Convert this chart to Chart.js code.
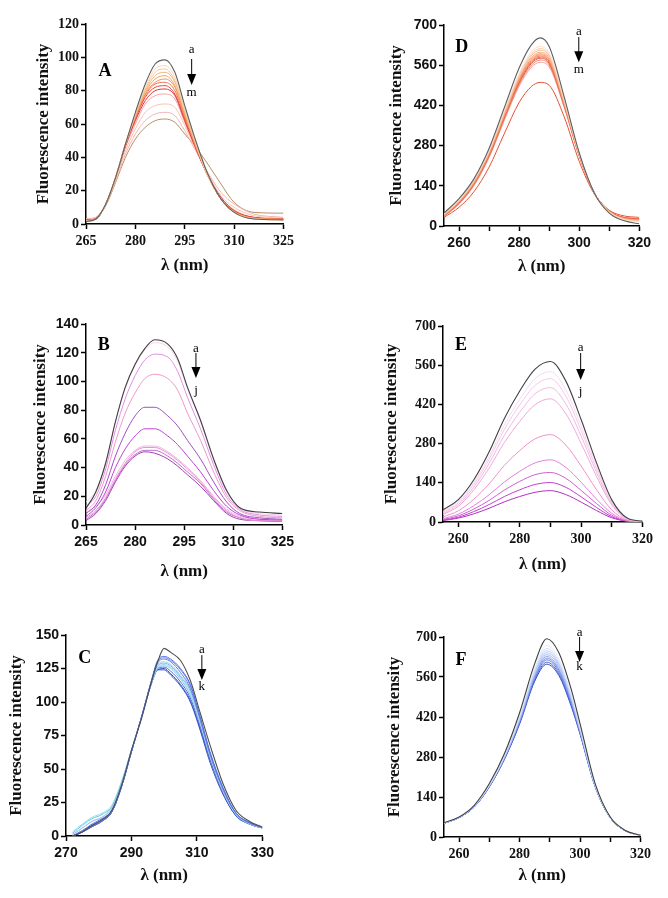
<!DOCTYPE html>
<html>
<head>
<meta charset="utf-8">
<script src="https://cdn.jsdelivr.net/npm/chart.js"></script>
<style>
  html, body { margin: 0; padding: 0; background: #fff; }
  #fig { position: relative; width: 668px; height: 898px; overflow: hidden; background: #fff; }
  #fig canvas { position: absolute; }
</style>
</head>
<body>
<div id="fig"></div>
<script>
    // ---- Panel A: wavelengths and curves a..m
    const wlA = [265, 268, 271, 274, 277, 280, 283, 286, 289, 292, 295, 298, 302, 306, 310, 316, 325];
    const namesA = ['a', 'b', 'c', 'd', 'e', 'f', 'g', 'h', 'i', 'j', 'k', 'l', 'm'];
    const curvesA = [
        [1.5, 3, 12, 28, 48, 67, 84, 96, 98.5, 91, 71, 52, 30, 15, 7, 3, 2.5],
        [1.5, 3, 12, 28, 48, 66, 82, 93, 95, 88, 69, 51, 29, 15, 7, 3, 2.5],
        [1.8, 3, 12, 28, 48, 66, 81, 91, 93, 86, 68, 50, 29, 15, 7, 3.2, 2.5],
        [2, 3, 12, 28, 48, 65, 80, 89, 91, 85, 67, 50, 29, 15, 7, 3.2, 2.5],
        [2, 3, 12, 28, 48, 65, 79, 87, 89, 83, 66, 49, 29, 15, 7.5, 3.5, 2.8],
        [2, 3, 12, 28, 48, 64, 78, 85, 87, 82, 65, 49, 29, 15, 7.5, 3.5, 2.8],
        [2.2, 3, 12, 28, 48, 64, 77, 84, 85, 80, 64, 48, 29, 15, 7.5, 3.5, 2.8],
        [2.2, 3, 12, 28, 47, 63, 76, 82, 83, 78, 63, 48, 29, 15, 8, 3.8, 3],
        [2.5, 3, 12, 28, 47, 62, 74, 80, 81, 77, 62, 47, 29, 16, 8, 4, 3],
        [2.5, 3.5, 12, 28, 46, 60, 72, 77, 78, 75, 61, 47, 30, 16, 8.5, 4, 3],
        [3, 4, 12, 27, 44, 57, 67, 71, 72, 70, 59, 46, 30, 17, 10, 5, 3.5],
        [3, 4, 12, 26, 42, 54, 62, 66, 67, 65, 56, 45, 31, 19, 12, 6, 4],
        [3, 4, 11, 25, 40, 51, 58, 62, 63, 61, 54, 47, 36, 24, 13, 7, 6.5]
    ];
    const colorsA = ['#606060', '#f8d4b4', '#f6c498', '#f4b478', '#f0a458', '#f29060', '#ee7454',
        '#e84444', '#e03434', '#f4a4a4', '#f8c4b0', '#f4b4b4', '#b89064'];
    const xTicksA = [265, 280, 295, 310, 325];
    const yTicksA = [0, 20, 40, 60, 80, 100, 120];

    // ---- Panel B: curves a..j
    const wlB = [265, 268, 271, 274, 277, 280, 283, 286, 290, 293, 296, 300, 304, 308, 312, 318, 325];
    const namesB = ['a', 'b', 'c', 'd', 'e', 'f', 'g', 'h', 'i', 'j'];
    const curvesB = [
        [11.6, 23, 43, 72, 96, 112, 123, 129, 126, 116, 96, 73, 46, 24, 12, 9, 8],
        [16, 24, 43, 72, 95, 111, 122, 127, 124, 114, 95, 72, 45, 23, 12, 8, 7],
        [13, 20, 39, 66, 88, 104, 115, 119, 117, 107, 89, 67, 42, 21, 11, 7, 6],
        [10, 17, 34, 58, 78, 92, 102, 105, 102, 94, 78, 59, 37, 19, 10, 6, 5],
        [8, 14, 28, 48, 64, 76, 82, 82, 76, 69, 59, 46, 30, 16, 8, 5, 4],
        [6, 12, 23, 40, 53, 62, 67, 67, 62, 56, 48, 37, 24, 13, 7, 4, 3.5],
        [9, 13, 21, 34, 45, 52, 55, 55, 51, 46, 40, 31, 20, 11, 6, 4, 3],
        [5, 10, 19, 32, 43, 51, 54, 54, 50, 45, 39, 30, 19, 10, 5, 3, 3],
        [4, 9, 18, 31, 42, 49, 52, 52, 48, 43, 37, 29, 18, 9, 5, 3, 2.5],
        [3, 8, 17, 30, 41, 48, 51, 50, 46, 41, 35, 27, 17, 8, 4, 3, 2.5]
    ];
    const colorsB = ['#404040', '#f4d0f0', '#e090e0', '#f098c8', '#a050c0', '#c040d8',
        '#f0b4e4', '#e890d0', '#c070d0', '#a040b0'];
    const xTicksB = [265, 280, 295, 310, 325];
    const yTicksB = [0, 20, 40, 60, 80, 100, 120, 140];

    // ---- Panel C: curves a..k
    const wlC = [272, 275, 278, 281, 284, 287, 290, 293, 296, 298, 300, 302, 305, 308, 311, 314, 318, 322, 326, 330];
    const namesC = ['a', 'b', 'c', 'd', 'e', 'f', 'g', 'h', 'i', 'j', 'k'];
    const curvesC = [
        [0, 3, 8, 12, 19, 38, 64, 87, 114, 130, 140, 137, 131, 116, 92, 68, 39, 19, 11, 6.7],
        [0, 3, 7, 11, 18, 37, 63, 88, 115, 131, 134, 132, 125, 113, 89, 63, 36, 17, 10, 6.5],
        [0, 3, 8, 12, 18, 37, 63, 88, 115, 130, 133, 131, 124, 112, 88, 62, 35, 17, 10, 6.5],
        [0, 4, 8, 12, 19, 38, 63, 88, 114, 129, 132, 130, 122, 110, 87, 61, 35, 17, 10, 6.5],
        [1, 6, 11, 14, 21, 39, 64, 88, 114, 128, 130, 128, 120, 109, 86, 61, 34, 16, 10, 6.5],
        [2, 8, 13, 16, 22, 40, 64, 88, 114, 127, 129, 127, 119, 108, 87, 62, 35, 17, 10, 6.5],
        [3, 9, 14, 17, 23, 41, 64, 88, 113, 126, 128, 126, 118, 106, 85, 60, 34, 16, 10, 6.5],
        [1, 6, 11, 14, 21, 39, 63, 88, 113, 125, 127, 125, 117, 105, 84, 59, 33, 16, 9, 6],
        [0, 4, 9, 13, 19, 38, 63, 88, 113, 125, 126, 123, 115, 103, 82, 58, 33, 16, 9, 6],
        [0, 3, 8, 12, 18, 37, 63, 88, 113, 124, 125, 121, 113, 101, 80, 57, 32, 15, 9, 6],
        [0, 3, 7, 11, 18, 37, 63, 88, 113, 124, 124, 120, 112, 100, 79, 55, 31, 15, 9, 6]
    ];
    const colorsC = ['#505050', '#5070e0', '#8080e0', '#6080e8', '#a8ccf0', '#60c8e0',
        '#98e0f0', '#a0b8f0', '#5070d8', '#3050c8', '#3858c0'];
    const xTicksC = [270, 290, 310, 330];
    const yTicksC = [0, 25, 50, 75, 100, 125, 150];

    // ---- Panel D: curves a..m
    const wlD = [255, 260, 265, 270, 275, 280, 284, 287, 290, 295, 300, 305, 310, 315, 320];
    const namesD = ['a', 'b', 'c', 'd', 'e', 'f', 'g', 'h', 'i', 'j', 'k', 'l', 'm'];
    const curvesD = [
        [45, 95, 165, 270, 410, 550, 630, 655, 625, 450, 255, 115, 45, 18, 8],
        [42, 90, 160, 262, 398, 530, 605, 625, 602, 440, 252, 116, 48, 22, 15],
        [40, 88, 158, 260, 395, 525, 598, 618, 596, 437, 251, 116, 49, 23, 17],
        [40, 87, 156, 258, 392, 521, 592, 612, 591, 434, 250, 116, 50, 24, 18],
        [38, 85, 154, 255, 388, 516, 586, 605, 585, 431, 249, 116, 50, 25, 20],
        [38, 84, 152, 253, 385, 512, 581, 600, 580, 428, 248, 116, 51, 26, 21],
        [37, 83, 150, 251, 382, 508, 577, 596, 577, 426, 247, 116, 51, 26, 22],
        [36, 82, 149, 249, 380, 505, 573, 592, 573, 424, 247, 116, 52, 27, 23],
        [36, 81, 148, 247, 378, 502, 569, 588, 570, 422, 246, 116, 52, 28, 24],
        [35, 80, 146, 245, 375, 498, 565, 584, 566, 420, 245, 116, 53, 29, 25],
        [34, 78, 144, 242, 371, 493, 559, 578, 561, 417, 244, 116, 53, 30, 26],
        [33, 76, 141, 238, 366, 487, 552, 570, 554, 413, 243, 116, 54, 31, 28],
        [30, 65, 120, 205, 320, 430, 485, 500, 490, 380, 225, 112, 55, 35, 30]
    ];
    const colorsD = ['#606060', '#fcdcc8', '#f8ccac', '#f6bc94', '#f4ac84', '#f29c74', '#f08c64',
        '#ee7c54', '#ec6c44', '#ea5c3c', '#f08484', '#f0a0a0', '#e85030'];
    const xTicksD = [260, 270, 280, 290, 300, 310, 320];
    const xLabelsD = [260, 280, 300, 320];
    const yTicksD = [0, 140, 280, 420, 560, 700];

    // ---- Panel E: curves a..j
    const wlE = [255, 260, 265, 270, 275, 280, 285, 290, 295, 300, 305, 310, 315, 320];
    const namesE = ['a', 'b', 'c', 'd', 'e', 'f', 'g', 'h', 'i', 'j'];
    const curvesE = [
        [43, 80, 150, 250, 370, 468, 546, 573, 504, 366, 212, 79, 14, 3],
        [38, 73, 140, 234, 347, 438, 512, 537, 472, 343, 199, 74, 13, 3],
        [34, 68, 133, 223, 331, 418, 488, 512, 450, 327, 190, 71, 12, 3],
        [30, 62, 124, 209, 310, 392, 458, 480, 422, 307, 178, 66, 11, 2],
        [26, 56, 114, 192, 284, 359, 419, 440, 387, 281, 163, 61, 10, 2],
        [18, 40, 81, 136, 202, 255, 297, 312, 275, 200, 116, 43, 7, 1],
        [12, 28, 58, 97, 143, 181, 211, 222, 195, 142, 82, 31, 5, 1],
        [9, 22, 46, 77, 114, 145, 169, 177, 156, 113, 66, 24, 4, 1],
        [7, 17, 37, 62, 91, 115, 134, 141, 124, 90, 52, 19, 3, 1],
        [5, 14, 29, 49, 72, 91, 106, 112, 98, 71, 41, 15, 3, 0]
    ];
    const colorsE = ['#404040', '#f8d8f0', '#f4c8ea', '#f0b8e4', '#f0a8dc', '#f090c8',
        '#e080e0', '#d060d0', '#c040d0', '#b030c0'];
    const xTicksE = [260, 270, 280, 290, 300, 310, 320];
    const xLabelsE = [260, 280, 300, 320];
    const yTicksE = [0, 140, 280, 420, 560, 700];

    // ---- Panel F: curves a..k
    const wlF = [255, 260, 265, 270, 275, 280, 285, 289, 293, 297, 300, 305, 310, 315, 320];
    const namesF = ['a', 'b', 'c', 'd', 'e', 'f', 'g', 'h', 'i', 'j', 'k'];
    const curvesF = [
        [50, 70, 111, 187, 292, 435, 607, 694, 645, 520, 397, 187, 70, 23, 6],
        [49, 69, 109, 184, 287, 424, 591, 670, 623, 504, 387, 184, 69, 23, 6],
        [49, 69, 109, 182, 284, 420, 584, 660, 614, 498, 383, 183, 69, 23, 6],
        [49, 69, 108, 181, 282, 416, 578, 652, 608, 492, 379, 182, 69, 23, 6],
        [49, 69, 108, 180, 281, 413, 573, 645, 603, 489, 376, 181, 68, 22, 6],
        [49, 69, 107, 179, 279, 410, 568, 638, 597, 485, 373, 180, 68, 22, 6],
        [48, 68, 107, 179, 278, 407, 563, 632, 589, 480, 371, 179, 68, 22, 6],
        [48, 68, 106, 178, 277, 405, 559, 626, 584, 476, 369, 179, 68, 22, 6],
        [48, 68, 106, 177, 275, 402, 555, 620, 578, 471, 366, 178, 67, 22, 6],
        [48, 68, 105, 176, 273, 398, 550, 612, 571, 465, 363, 177, 67, 22, 6],
        [48, 68, 105, 175, 272, 395, 545, 605, 565, 460, 360, 176, 67, 22, 6]
    ];
    const colorsF = ['#404040', '#e0e8f8', '#d0dcf8', '#c0d0f4', '#b0c4f4', '#a0b4f0',
        '#8ca4ec', '#7890e8', '#6078e0', '#4860d8', '#3048d0'];
    const xTicksF = [260, 270, 280, 290, 300, 310, 320];
    const xLabelsF = [260, 280, 300, 320];
    const yTicksF = [0, 140, 280, 420, 560, 700];

    const SERIF = '"Liberation Serif", "Times New Roman", serif';
    const SANS = '"Liberation Sans", Arial, sans-serif';

    // panel letter + "a -> m" arrow, placed in fractions of the plot area
    const marks = {
        id: 'marks',
        afterDraw(chart, args, o) {
            const { ctx, chartArea: c } = chart;
            const X = f => c.left + f * (c.right - c.left);
            const Y = f => c.top + f * (c.bottom - c.top);
            ctx.save();
            ctx.fillStyle = '#000';
            ctx.strokeStyle = '#000';
            ctx.textAlign = 'center';
            ctx.textBaseline = 'middle';
            ctx.font = 'bold 18px ' + SERIF;
            ctx.fillText(o.letter, X(o.lx), Y(o.ly));
            ctx.font = '13px ' + SERIF;
            ctx.fillText(o.first, X(o.ax), Y(o.firstY));
            ctx.fillText(o.last, X(o.ax), Y(o.lastY));
            const x = X(o.ax), y0 = Y(o.a0), y1 = Y(o.a1);
            ctx.lineWidth = 1;
            ctx.beginPath();
            ctx.moveTo(x, y0);
            ctx.lineTo(x, y1 - 9);
            ctx.stroke();
            ctx.beginPath();
            ctx.moveTo(x - 4.5, y1 - 11);
            ctx.lineTo(x + 4.5, y1 - 11);
            ctx.lineTo(x, y1);
            ctx.closePath();
            ctx.fill();
            ctx.restore();
        }
    };

    function drawPanel(p) {
        const L = p.titleX - 12, T = p.top - 12;
        const w = p.right + 14 - L, h = p.xTitleY + 12 - T;
        const cv = document.createElement('canvas');
        cv.width = w;
        cv.height = h;
        cv.style.left = L + 'px';
        cv.style.top = T + 'px';
        cv.style.width = w + 'px';
        cv.style.height = h + 'px';
        document.getElementById('fig').appendChild(cv);
        const yW = p.left - L, xH = p.xTitleY + 12 - p.bottom;
        const tickFont = { family: p.tickFamily, size: 14, weight: 'bold' };
        const titleFont = { family: SERIF, size: 17, weight: 'bold' };
        const xLabels = p.xLabels || p.xTicks;

        new Chart(cv, {
            type: 'line',
            data: {
                datasets: p.curves.map((c, i) => ({
                    label: p.names[i],
                    data: c.map((v, j) => ({ x: p.wl[j], y: v })),
                    borderColor: p.colors[i],
                    borderWidth: i === 0 ? 1.1 : 1,
                    pointRadius: 0,
                    cubicInterpolationMode: 'monotone',
                    fill: false
                }))
            },
            options: {
                responsive: false,
                animation: false,
                layout: { padding: { top: 12, right: 14, left: 0, bottom: 0 } },
                plugins: { legend: { display: false }, tooltip: { enabled: false }, marks: p.mark },
                scales: {
                    x: {
                        type: 'linear',
                        min: p.xMin,
                        max: p.xMax,
                        afterBuildTicks: s => { s.ticks = p.xTicks.map(v => ({ value: v })); },
                        afterFit: s => { s.height = xH; },
                        ticks: {
                            callback: v => xLabels.includes(v) ? String(v) : '',
                            font: tickFont, color: '#111', padding: 4, maxRotation: 0, autoSkip: false
                        },
                        grid: { drawOnChartArea: false, color: '#000', tickLength: 5, tickWidth: 1.5 },
                        border: { color: '#000', width: 1.5 },
                        title: { display: true, text: 'λ (nm)', font: titleFont, color: '#111', padding: { top: 0, bottom: 2 } }
                    },
                    y: {
                        type: 'linear',
                        min: 0,
                        max: p.yTicks[p.yTicks.length - 1],
                        afterBuildTicks: s => { s.ticks = p.yTicks.map(v => ({ value: v })); },
                        afterFit: s => { s.width = yW; },
                        ticks: { font: tickFont, color: '#111', padding: 2 },
                        grid: { drawOnChartArea: false, color: '#000', tickLength: 5, tickWidth: 1.5 },
                        border: { color: '#000', width: 1.5 },
                        title: { display: true, text: 'Fluorescence intensity', font: titleFont, color: '#111', padding: { top: 2, bottom: 0 } }
                    }
                }
            },
            plugins: [marks]
        });
    }

    drawPanel({
        wl: wlA, names: namesA, curves: curvesA, colors: colorsA,
        xMin: 265, xMax: 325, xTicks: xTicksA, yTicks: yTicksA, tickFamily: SERIF,
        titleX: 43, left: 86, right: 284, top: 24, bottom: 224, xTitleY: 266,
        mark: { letter: 'A', lx: 0.096, ly: 0.235, first: 'a', last: 'm', ax: 0.535, firstY: 0.13, a0: 0.175, a1: 0.305, lastY: 0.345 }
    });
    drawPanel({
        wl: wlB, names: namesB, curves: curvesB, colors: colorsB,
        xMin: 265, xMax: 325, xTicks: xTicksB, yTicks: yTicksB, tickFamily: SANS,
        titleX: 40, left: 86, right: 284, top: 324, bottom: 525, xTitleY: 572,
        mark: { letter: 'B', lx: 0.091, ly: 0.104, first: 'a', last: 'j', ax: 0.56, firstY: 0.12, a0: 0.144, a1: 0.269, lastY: 0.33 }
    });
    drawPanel({
        wl: wlC, names: namesC, curves: curvesC, colors: colorsC,
        xMin: 270, xMax: 330, xTicks: xTicksC, yTicks: yTicksC, tickFamily: SANS,
        titleX: 16, left: 66, right: 264, top: 635, bottom: 836, xTitleY: 876,
        mark: { letter: 'C', lx: 0.096, ly: 0.114, first: 'a', last: 'k', ax: 0.692, firstY: 0.075, a0: 0.1, a1: 0.224, lastY: 0.259 }
    });
    drawPanel({
        wl: wlD, names: namesD, curves: curvesD, colors: colorsD,
        xMin: 255, xMax: 320, xTicks: xTicksD, xLabels: xLabelsD, yTicks: yTicksD, tickFamily: SANS,
        titleX: 396, left: 444, right: 641, top: 25, bottom: 226, xTitleY: 267,
        mark: { letter: 'D', lx: 0.091, ly: 0.11, first: 'a', last: 'm', ax: 0.69, firstY: 0.035, a0: 0.06, a1: 0.185, lastY: 0.224 }
    });
    drawPanel({
        wl: wlE, names: namesE, curves: curvesE, colors: colorsE,
        xMin: 255, xMax: 320, xTicks: xTicksE, xLabels: xLabelsE, yTicks: yTicksE, tickFamily: SERIF,
        titleX: 391, left: 443, right: 643, top: 326, bottom: 522, xTitleY: 565,
        mark: { letter: 'E', lx: 0.09, ly: 0.097, first: 'a', last: 'j', ax: 0.69, firstY: 0.112, a0: 0.138, a1: 0.276, lastY: 0.337 }
    });
    drawPanel({
        wl: wlF, names: namesF, curves: curvesF, colors: colorsF,
        xMin: 255, xMax: 320, xTicks: xTicksF, xLabels: xLabelsF, yTicks: yTicksF, tickFamily: SERIF,
        titleX: 394, left: 444, right: 641, top: 637, bottom: 837, xTitleY: 876,
        mark: { letter: 'F', lx: 0.086, ly: 0.115, first: 'a', last: 'k', ax: 0.69, firstY: -0.02, a0: 0.0, a1: 0.125, lastY: 0.15 }
    });
</script>
</body>
</html>
